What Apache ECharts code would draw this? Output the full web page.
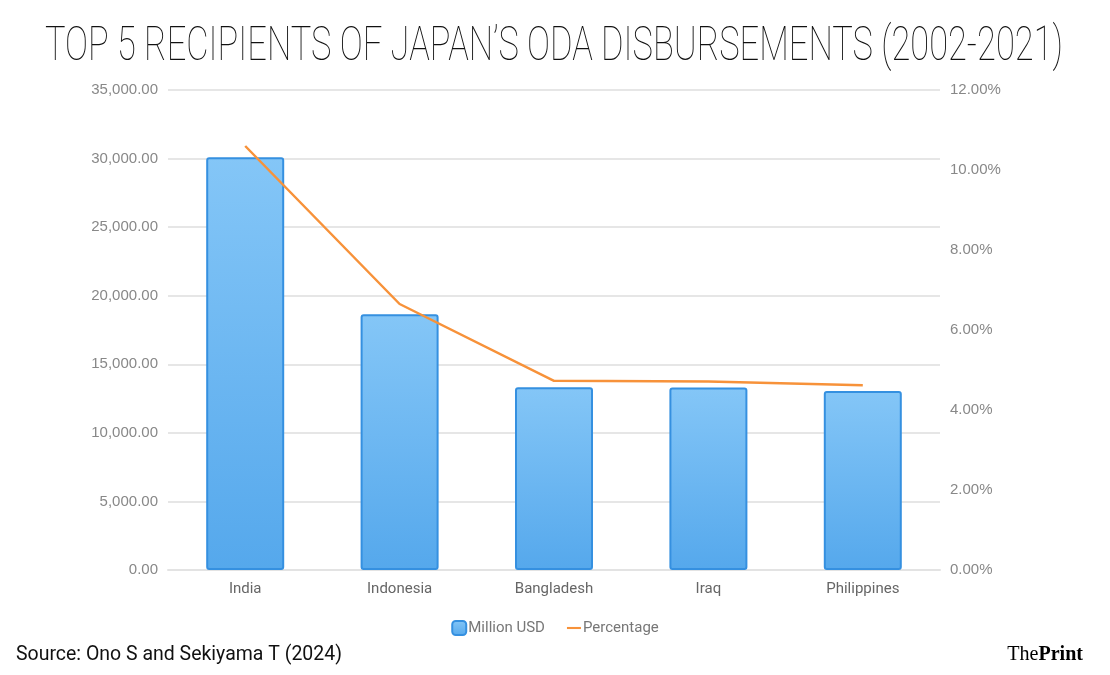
<!DOCTYPE html>
<html>
<head>
<meta charset="utf-8">
<script src="https://cdn.jsdelivr.net/npm/echarts@6/dist/echarts.min.js"></script>
<style>
  html, body { margin: 0; padding: 0; background: #fff; }
  #chart { width: 1110px; height: 675px; }
</style>
</head>
<body>
<div id="chart"></div>
<script>
// data
const countries = ['India', 'Indonesia', 'Bangladesh', 'Iraq', 'Philippines'];
const millionUsd = [30100, 18650, 13320, 13300, 13050];
const percentage = [10.6, 6.65, 4.73, 4.71, 4.62];

const titleText = 'TOP 5 RECIPIENTS OF JAPAN\u2019S ODA DISBURSEMENTS (2002-2021)';
const sourceText = 'Source: Ono S and Sekiyama T (2024)';

// squeeze text to a width, the original uses condensed fonts
const ctx = document.createElement('canvas').getContext('2d');
function fitScale(text, font, width) {
  ctx.font = font;
  return width / ctx.measureText(text).width;
}
const titleFont = '100 49px Roboto';
const titleScale = fitScale(titleText, titleFont, 1018);
const srcFont = '20px Roboto';
const srcScale = fitScale(sourceText, srcFont, 326);
const logoScale = fitScale('ThePrint', 'bold 20px "Liberation Serif"', 78);

const chart = echarts.init(document.getElementById('chart'), null, { renderer: 'canvas' });

const option = {
  backgroundColor: '#fff',
  animation: false,
  grid: { left: 168, right: 170, top: 90, bottom: 105 },
  legend: {
    top: 615,
    left: 'center',
    itemWidth: 14,
    itemHeight: 14,
    itemGap: 22,
    textStyle: { color: '#777', fontSize: 15, fontFamily: 'Roboto', padding: [0, 0, 0, -3] },
    data: [
      { name: 'Million USD', icon: 'roundRect' },
      { name: 'Percentage', icon: 'path://M0,0 L20,0 L20,3 L0,3 Z', itemStyle: { color: '#f7923a' } }
    ]
  },
  xAxis: {
    type: 'category',
    data: countries,
    axisTick: { show: false },
    axisLine: { lineStyle: { color: '#e3e3e3', width: 2 } },
    axisLabel: { color: '#666', fontSize: 15, fontFamily: 'Roboto', margin: 12 }
  },
  yAxis: [
    {
      type: 'value', min: 0, max: 35000, interval: 5000,
      axisLine: { show: false }, axisTick: { show: false },
      splitLine: { lineStyle: { color: '#e6e6e6', width: 2 } },
      axisLabel: {
        color: '#888', fontSize: 15, fontFamily: 'Liberation Sans', margin: 10,
        formatter: v => v.toLocaleString('en-US', { minimumFractionDigits: 2, maximumFractionDigits: 2 })
      }
    },
    {
      type: 'value', min: 0, max: 12, interval: 2,
      axisLine: { show: false }, axisTick: { show: false },
      splitLine: { show: false },
      axisLabel: {
        color: '#888', fontSize: 15, fontFamily: 'Liberation Sans', margin: 10,
        formatter: v => v.toFixed(2) + '%'
      }
    }
  ],
  series: [
    {
      name: 'Million USD',
      type: 'bar',
      data: millionUsd,
      barWidth: 78,
      itemStyle: {
        color: new echarts.graphic.LinearGradient(0, 0, 0, 1, [
          { offset: 0, color: '#84c6f7' },
          { offset: 1, color: '#55a8ec' }
        ]),
        borderColor: '#3590e0',
        borderWidth: 2,
        borderRadius: 2
      }
    },
    {
      name: 'Percentage',
      type: 'line',
      yAxisIndex: 1,
      data: percentage,
      symbol: 'none',
      lineStyle: { color: '#f7923a', width: 2.5 },
      itemStyle: { color: '#f7923a' }
    }
  ],
  graphic: [
    {
      type: 'text', x: 554, y: 48, scaleX: titleScale,
      style: {
        text: titleText, font: titleFont, fill: '#111',
        textAlign: 'center', textVerticalAlign: 'middle'
      }
    },
    {
      type: 'text', x: 16, y: 655, scaleX: srcScale,
      style: {
        text: sourceText, font: srcFont, fill: '#111',
        textAlign: 'left', textVerticalAlign: 'middle'
      }
    },
    {
      type: 'text', x: 1083, y: 655, scaleX: logoScale,
      style: {
        text: '{a|The}{b|Print}',
        textAlign: 'right', textVerticalAlign: 'middle',
        rich: {
          a: { fontFamily: 'Liberation Serif', fontSize: 20, color: '#111' },
          b: { fontFamily: 'Liberation Serif', fontSize: 20, fontWeight: 'bold', color: '#111' }
        }
      }
    }
  ]
};

chart.setOption(option);
</script>
</body>
</html>
